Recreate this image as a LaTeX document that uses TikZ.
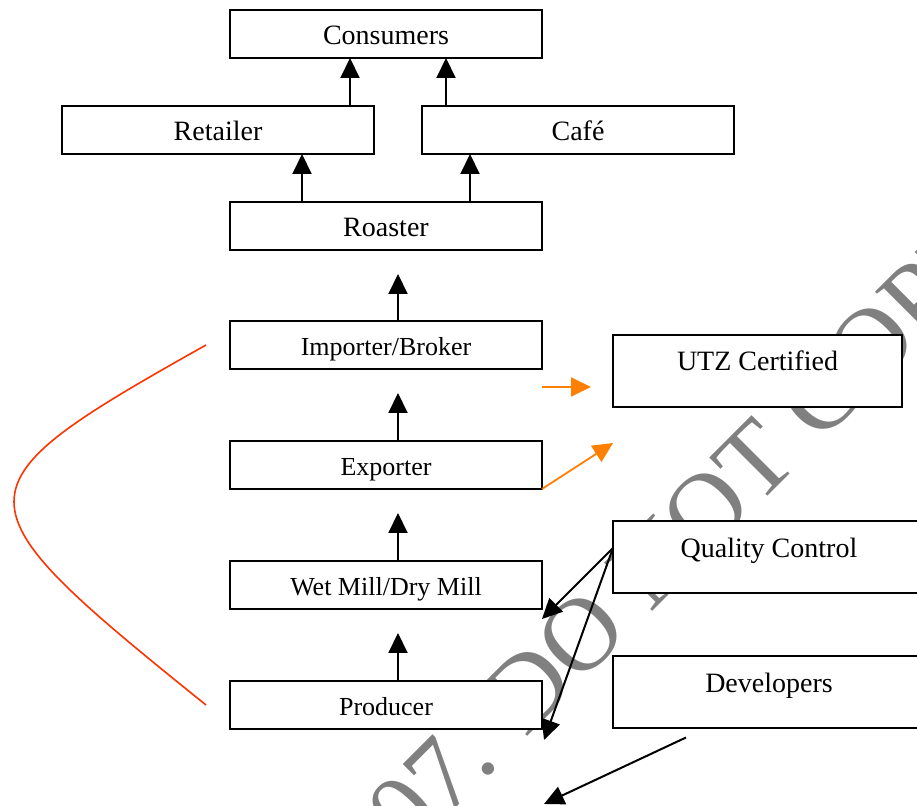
\documentclass[tikz,border=0pt]{standalone}
\usepackage{fontspec}
\setmainfont{Liberation Serif}
\usetikzlibrary{arrows.meta,positioning,calc}
\definecolor{orangeline}{HTML}{FF8000}
\definecolor{redline}{HTML}{FF3300}
\definecolor{wmgray}{HTML}{808080}

\begin{document}
\begin{tikzpicture}[
  x=0.5pt, y=-0.5pt,
  >={Triangle[length=10pt, width=9.5pt]},
  stage/.style={rectangle, draw=black, fill=white, line width=1pt, minimum width=156pt,
                minimum height=24pt, inner sep=0pt, outer sep=0pt, text height=11pt, text depth=0pt,
                font=\fontsize{14}{16}\selectfont},
  stagesm/.style={stage, font=\fontsize{13}{15}\selectfont},
  side/.style={rectangle, draw=black, fill=white, line width=1pt, minimum width=156pt,
               minimum height=36pt, inner sep=0pt, outer sep=0pt, text height=10pt, text depth=10pt,
               font=\fontsize{14}{16}\selectfont},
  flow/.style={->, line width=1pt, draw=black},
  cert/.style={->, line width=0.9pt, draw=orangeline},
  redcurve/.style={line width=0.8pt, draw=redline},
  wmark/.style={text=wmgray, font=\fontsize{52}{58}\selectfont, inner sep=0pt},
]

\useasboundingbox (0,0) rectangle (917,806);
\clip (0,0) rectangle (917,806);

% watermark goes first, the boxes cover it
\node[wmark, rotate=45, anchor=base west] (wm) at (409,855) {07. DO NOT COPY};

\node[stage] (consumers) at (386,34) {Consumers};
\node[stage, below=24pt of consumers, xshift=-84pt] (retailer) {Retailer};
\node[stage, below=24pt of consumers, xshift=96pt]  (cafe)     {Café};
\node[stage, below=72pt of consumers]               (roaster)  {Roaster};
\node[stagesm, below=35.5pt of roaster]  (importer) {Importer/Broker};
\node[stagesm, below=36pt of importer]   (exporter) {Exporter};
\node[stagesm, below=36pt of exporter]   (mill)     {Wet Mill/Dry Mill};
\node[stagesm, below=36pt of mill]       (producer) {Producer};

\node[side, minimum width=144.5pt, right=35.5pt of importer, yshift=-13pt] (utz) {UTZ Certified};
\node[side, right=35.5pt of mill, yshift=13.75pt]    (qc)  {Quality Control};
\node[side, right=35.5pt of producer, yshift=6.25pt] (dev) {Developers};

% the chain upwards
\draw[flow] ([xshift=-12pt]retailer.north east) -- ([xshift=-18pt]consumers.south);
\draw[flow] ([xshift=12pt]cafe.north west) -- ([xshift=30pt]consumers.south);
\draw[flow] ([xshift=36pt]roaster.north west) -- ([xshift=42pt]retailer.south);
\draw[flow] ([xshift=-36pt]roaster.north east) -- ([xshift=-54pt]cafe.south);
\draw[flow, shorten >=12pt] ([xshift=6pt]importer.north) -- ([xshift=6pt]roaster.south);
\draw[flow, shorten >=12pt] ([xshift=6pt]exporter.north) -- ([xshift=6pt]importer.south);
\draw[flow, shorten >=12pt] ([xshift=6pt]mill.north) -- ([xshift=6pt]exporter.south);
\draw[flow, shorten >=12pt] ([xshift=6pt]producer.north) -- ([xshift=6pt]mill.south);

% certification
\draw[cert, shorten >=11pt] ([yshift=-9pt]importer.south east) -- ([yshift=-8pt]utz.west);
\draw[cert] (exporter.south east) -- ([yshift=-18pt]utz.south west);

% quality control and developers
\draw[flow] ([yshift=4.75pt]qc.west) -- ([yshift=-5pt]mill.south east);
\draw[flow] ([yshift=4.75pt]qc.west) -- ([xshift=1pt, yshift=-5.5pt]producer.south east);
\draw[flow] ([xshift=-41.5pt, yshift=-4.5pt]dev.south) -- ([xshift=1pt, yshift=-37.5pt]producer.south east);

% bracket from producer up to importer
\draw[redcurve] ([xshift=-12pt]importer.west) .. controls +(-128pt,-72pt) and +(-128pt,103pt) .. ([xshift=-12pt]producer.west);

\end{tikzpicture}
\end{document}
